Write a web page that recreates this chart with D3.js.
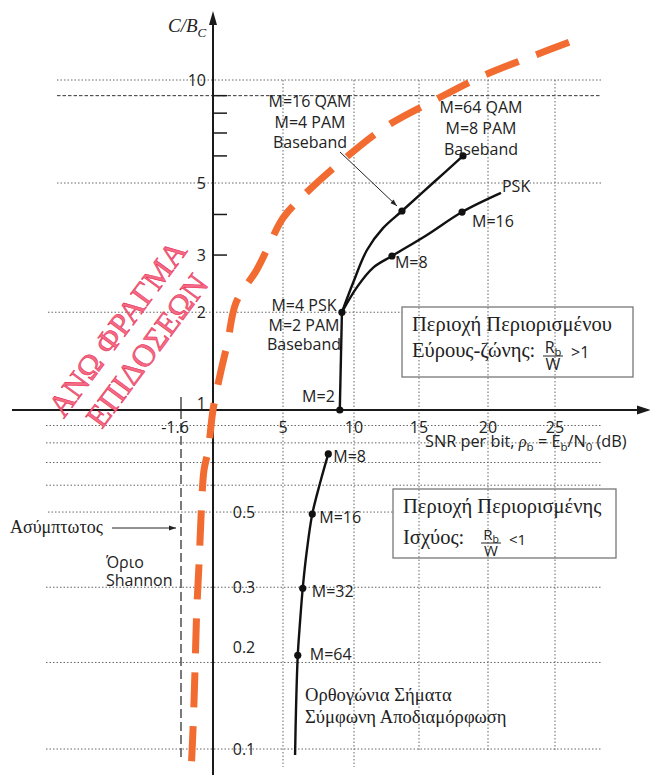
<!DOCTYPE html>
<html><head><meta charset="utf-8">
<script src="https://cdn.jsdelivr.net/npm/d3@7"></script>
<style>body{margin:0;background:#fff}svg{display:block}</style>
</head><body>
<svg id="chart" width="650" height="775"></svg>
<script>
// ---------------- data ----------------
const xTickValues = [-1.6, 5, 10, 15, 20, 25];
const xTickLabels = ["-1.6", "5", "10", "15", "20", "25"];
const yUpperTickValues = [10, 5, 3, 2, 1];
const yUpperTickLabels = ["10", "5", "3", "2", "1"];
const yLowerTickValues = [0.5, 0.3, 0.2, 0.1];
const yLowerTickLabels = ["0.5", "0.3", "0.2", "0.1"];
const yMinorTicks = [9, 8, 7, 6, 4, 3];
const hGridValues = [10, 5, 0.9, 0.8, 0.7, 0.6, 0.3, 0.18, 0.1];
const hGridShortValues = [2, 0.5];
const hGridDashedValues = [9];
const vGridValues = [5, 10, 15, 20, 25];
const asymptoteDb = -1.6;

// Shannon bound (orange dashed)
const shannonDb   = [-1.07, -0.99, -0.90, -0.82, -0.69, -0.57, -0.45, -0.24, 0, 0.5, 1.05, 1.64, 3.12, 3.84, 5.0, 6.34, 9.23, 12.54, 16.16, 19.78, 23.58, 26.49];
const shannonRate = [0.092, 0.118, 0.171, 0.249, 0.361, 0.525, 0.665, 0.762, 1.0, 1.28, 1.62, 2.14, 2.70, 3.11, 3.90, 4.53, 5.84, 7.34, 8.74, 10.35, 11.84, 13.1];

// Bandwidth-limited trunk (M=2 -> M=4)
const trunkDb   = [9.0, 9.15];
const trunkRate = [1.0, 2.0];
// QAM / PAM branch
const qamDb   = [9.15, 9.93, 11.0, 12.23, 13.69, 16.01, 18.19];
const qamRate = [2.0, 2.46, 3.11, 3.63, 4.10, 5.0, 6.0];
const qamDotIdx = [4, 6];
// PSK branch
const pskDb   = [9.15, 10.23, 11.46, 12.92, 15.58, 18.12, 20.97];
const pskRate = [2.0, 2.39, 2.74, 2.98, 3.46, 4.07, 4.66];
const pskDotIdx = [3, 5];
// Orthogonal signals, coherent detection
const orthoDb   = [8.19, 7.61, 7.06, 6.67, 6.39, 6.20, 6.04, 5.92, 5.85];
const orthoRate = [0.742, 0.609, 0.493, 0.382, 0.298, 0.237, 0.189, 0.133, 0.096];
const orthoDotIdx = [0, 2, 4, 6];
const orthoLabels = ["M=8", "M=16", "M=32", "M=64"];

// ---------------- setup ----------------
const svg = d3.select("#chart");
const SANS = "'Open Sans', 'Noto Sans', sans-serif";
const SERIF = "'Liberation Serif', 'DejaVu Serif', serif";
const ORANGE = "#f26b30";

const x = d3.scaleLinear().domain([-1.6, 0, 5, 10, 15, 20, 25]).range([181, 213, 283, 354, 419, 488, 555]);
const y = d3.scaleLog().domain([0.1, 1, 5, 10]).range([749, 410, 183, 80]);
const x0 = x(0), y0 = y(1);

const defs = svg.append("defs");
defs.append("marker").attr("id", "arr").attr("viewBox", "0 0 10 10")
  .attr("refX", 10).attr("refY", 5).attr("markerWidth", 7).attr("markerHeight", 7)
  .attr("markerUnits", "userSpaceOnUse").attr("orient", "auto")
  .append("path").attr("d", "M0,1.5L10,5L0,8.5Z").attr("fill", "#222");

// ---------------- grid ----------------
const grid = svg.append("g").attr("fill", "none").attr("stroke", "#666").attr("stroke-width", 1);
grid.selectAll(".hg").data(hGridValues).join("line")
  .attr("x1", d => d >= 5 ? 57 : 46).attr("x2", 602)
  .attr("y1", d => y(d)).attr("y2", d => y(d))
  .attr("stroke-dasharray", "1.5,2");
grid.selectAll(".hs").data(hGridShortValues).join("line")
  .attr("x1", 48).attr("x2", (d, i) => i === 0 ? 402 : 393)
  .attr("y1", d => y(d)).attr("y2", d => y(d))
  .attr("stroke-dasharray", "1.5,2");
grid.selectAll(".hd").data(hGridDashedValues).join("line")
  .attr("x1", 57).attr("x2", 600)
  .attr("y1", d => y(d)).attr("y2", d => y(d))
  .attr("stroke", "#333").attr("stroke-dasharray", "3.5,2");
grid.selectAll(".vg").data(vGridValues).join("line")
  .attr("x1", d => x(d)).attr("x2", d => x(d))
  .attr("y1", y(10)).attr("y2", d => d <= 10 ? 767 : 750)
  .attr("stroke-dasharray", "1.5,2");

// asymptote
svg.append("line").attr("x1", x(asymptoteDb)).attr("x2", x(asymptoteDb))
  .attr("y1", y0 - 13).attr("y2", y0).attr("stroke", "#333").attr("stroke-width", 1.3);
svg.append("line").attr("x1", x(asymptoteDb)).attr("x2", x(asymptoteDb))
  .attr("y1", y0).attr("y2", 760).attr("stroke", "#333").attr("stroke-width", 1.3)
  .attr("stroke-dasharray", "9,4");

// ---------------- axes ----------------
const axes = svg.append("g").attr("stroke", "#1a1a1a").attr("stroke-width", 2);
axes.append("line").attr("x1", x0).attr("x2", x0).attr("y1", 775).attr("y2", 20);
axes.append("line").attr("x1", 12).attr("x2", 642).attr("y1", y0).attr("y2", y0);
svg.append("path").attr("d", `M${x0},11L${x0 - 4},25L${x0 + 4},25Z`).attr("fill", "#1a1a1a");
svg.append("path").attr("d", `M651,${y0}L637,${y0 - 4.5}L637,${y0 + 4.5}Z`).attr("fill", "#1a1a1a");
axes.selectAll(".mt").data(yMinorTicks).join("line")
  .attr("x1", x0).attr("x2", x0 + 14).attr("y1", d => y(d)).attr("y2", d => y(d))
  .attr("stroke-width", 1.5);

// tick labels
const tl = svg.append("g").attr("font-family", SANS).attr("font-size", 16).attr("fill", "#222");
tl.selectAll(".yu").data(yUpperTickValues).join("text")
  .attr("x", x0 - 7).attr("y", d => d === 1 ? y(d) - 1 : y(d) + 6)
  .attr("text-anchor", "end").text((d, i) => yUpperTickLabels[i]);
tl.selectAll(".yl").data(yLowerTickValues).join("text")
  .attr("x", x0 + 31).attr("y", d => y(d) + 6)
  .attr("text-anchor", "middle").text((d, i) => yLowerTickLabels[i]);
tl.selectAll(".xt").data(xTickValues).join("text")
  .attr("x", (d, i) => i === 0 ? x(d) - 6 : x(d)).attr("y", y0 + 23)
  .attr("text-anchor", "middle").text((d, i) => xTickLabels[i]);

// y-axis title C/B_C
const yt = svg.append("text").attr("x", 168).attr("y", 32).attr("font-family", SERIF)
  .attr("font-style", "italic").attr("font-size", 19).attr("fill", "#222");
yt.append("tspan").text("C/B");
yt.append("tspan").attr("font-size", 13).attr("dy", 5).text("C");

// x-axis title
const xt = svg.append("text").attr("x", 425).attr("y", 447).attr("font-family", SANS)
  .attr("font-size", 16.3).attr("fill", "#222");
xt.append("tspan").text("SNR per bit, ");
xt.append("tspan").attr("font-family", SERIF).attr("font-style", "italic").text("ρ");
xt.append("tspan").attr("font-size", 11.5).attr("dy", 4).text("b");
xt.append("tspan").attr("dy", -4).text(" = E");
xt.append("tspan").attr("font-size", 11.5).attr("dy", 4).text("b");
xt.append("tspan").attr("dy", -4).text("/N");
xt.append("tspan").attr("font-size", 11.5).attr("dy", 4).text("0");
xt.append("tspan").attr("dy", -4).text(" (dB)");

// ---------------- curves ----------------
const zip = (a, b) => a.map((v, i) => [v, b[i]]);
const line = d3.line().x(d => x(d[0])).y(d => y(d[1])).curve(d3.curveCatmullRom.alpha(0.5));

svg.append("path").attr("d", line(zip(shannonDb, shannonRate)))
  .attr("fill", "none").attr("stroke", ORANGE).attr("stroke-width", 7)
  .attr("stroke-dasharray", "35,19");

const curves = svg.append("g").attr("fill", "none").attr("stroke", "#111").attr("stroke-width", 2.4);
curves.append("path").attr("d", d3.line().x(d => x(d[0])).y(d => y(d[1]))(zip(trunkDb, trunkRate)));
curves.append("path").attr("d", line(zip(qamDb, qamRate)));
curves.append("path").attr("d", line(zip(pskDb, pskRate)));
curves.append("path").attr("d", line(zip(orthoDb, orthoRate)));

const dots = [
  [trunkDb[0], trunkRate[0]], [trunkDb[1], trunkRate[1]],
  ...qamDotIdx.map(i => [qamDb[i], qamRate[i]]),
  ...pskDotIdx.map(i => [pskDb[i], pskRate[i]]),
  ...orthoDotIdx.map(i => [orthoDb[i], orthoRate[i]])
];
svg.append("g").selectAll("circle").data(dots).join("circle")
  .attr("cx", d => x(d[0])).attr("cy", d => y(d[1])).attr("r", 3.6).attr("fill", "#111");

// ---------------- annotations ----------------
const ann = svg.append("g").attr("font-family", SANS).attr("font-size", 16).attr("fill", "#222");
function multi(g, lines, cx, y1, lh, anchor) {
  lines.forEach((t, i) => g.append("text").attr("x", cx).attr("y", y1 + i * lh)
    .attr("text-anchor", anchor || "middle").text(t));
}
multi(ann, ["M=16 QAM", "M=4 PAM", "Baseband"], 310, 107, 20.5);
multi(ann, ["M=64 QAM", "M=8 PAM", "Baseband"], 481, 113, 21);
multi(ann, ["M=4 PSK", "M=2 PAM", "Baseband"], 304, 311, 19.5);
ann.append("text").attr("x", x(trunkDb[0]) - 5).attr("y", y(trunkRate[0]) - 8)
  .attr("text-anchor", "end").text("M=2");
ann.append("text").attr("x", x(pskDb[3]) + 3).attr("y", y(pskRate[3]) + 12).text("M=8");
ann.append("text").attr("x", x(pskDb[5]) + 10).attr("y", y(pskRate[5]) + 15).text("M=16");
ann.append("text").attr("x", x(pskDb[6]) + 1).attr("y", y(pskRate[6]) - 1).text("PSK");
const orthoOff = [[5, 8], [7, 9], [9, 9], [12, 5]];
orthoDotIdx.forEach((idx, k) => {
  ann.append("text").attr("x", x(orthoDb[idx]) + orthoOff[k][0]).attr("y", y(orthoRate[idx]) + orthoOff[k][1])
    .text(orthoLabels[k]);
});
// pointer arrow to M=16 QAM
svg.append("line").attr("x1", 340).attr("y1", 152)
  .attr("x2", x(qamDb[4]) - 5).attr("y2", y(qamRate[4]) - 5)
  .attr("stroke", "#222").attr("stroke-width", 1).attr("marker-end", "url(#arr)");

// asymptote label
svg.append("text").attr("x", 10).attr("y", 533).attr("font-family", SERIF).attr("font-size", 18)
  .attr("fill", "#222").text("Ασύμπτωτος");
svg.append("line").attr("x1", 112).attr("y1", 528).attr("x2", x(asymptoteDb) - 5).attr("y2", 528)
  .attr("stroke", "#222").attr("stroke-width", 1).attr("marker-end", "url(#arr)");
multi(ann, ["Όριο", "Shannon"], 106, 568, 18, "start");

// orthogonal caption
const oc = svg.append("g").attr("font-family", SERIF).attr("font-size", 18.6).attr("fill", "#222");
multi(oc, ["Ορθογώνια Σήματα", "Σύμφωνη Αποδιαμόρφωση"], 305, 701, 22, "start");

// region boxes
function regionBox(bx, by, bw, bh, l1, l2, fx, fBase, op, fsz) {
  const g = svg.append("g");
  g.append("rect").attr("x", bx).attr("y", by).attr("width", bw).attr("height", bh)
    .attr("fill", "none").attr("stroke", "#777").attr("stroke-width", 1.3);
  g.append("text").attr("x", bx + 10).attr("y", by + 24).attr("font-family", SERIF)
    .attr("font-size", 20.5).attr("fill", "#222").text(l1);
  g.append("text").attr("x", bx + 10).attr("y", fBase + 1).attr("font-family", SERIF)
    .attr("font-size", 20.5).attr("fill", "#222").text(l2);
  const r = g.append("text").attr("x", fx).attr("y", fBase - 3).attr("text-anchor", "middle")
    .attr("font-family", SANS).attr("font-size", fsz).attr("fill", "#222");
  r.append("tspan").text("R");
  r.append("tspan").attr("font-size", fsz * 0.7).attr("dy", 3).text("b");
  g.append("line").attr("x1", fx - 10).attr("x2", fx + 10).attr("y1", fBase).attr("y2", fBase)
    .attr("stroke", "#222").attr("stroke-width", 1);
  g.append("text").attr("x", fx).attr("y", fBase + fsz * 0.85).attr("text-anchor", "middle")
    .attr("font-family", SANS).attr("font-size", fsz).attr("fill", "#222").text("W");
  g.append("text").attr("x", fx + 18).attr("y", fBase + 2).attr("font-family", SANS)
    .attr("font-size", fsz).attr("fill", "#222").text(op);
}
regionBox(402, 307, 231, 70, "Περιοχή Περιορισμένου", "Εύρους-ζώνης:", 553, 356, ">1", 16);
regionBox(393, 489, 223, 69, "Περιοχή Περιορισμένης", "Ισχύος:", 491, 543, "<1", 15);

// red rotated title
const red = svg.append("g").attr("transform", "translate(126,335) rotate(-53.5)")
  .attr("font-family", SERIF).attr("font-size", 32).attr("text-anchor", "middle")
  .attr("fill", "#f56b86").attr("stroke", "#e5244c").attr("stroke-width", 0.5);
red.append("text").attr("x", 0).attr("y", 0).text("ΑΝΩ ΦΡΑΓΜΑ");
red.append("text").attr("x", 0).attr("y", 37).text("ΕΠΙΔΟΣΕΩΝ");
</script>
</body></html>
